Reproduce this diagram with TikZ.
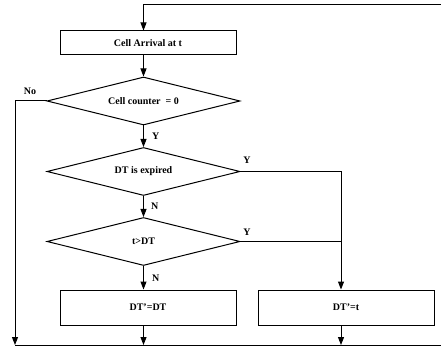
\documentclass[tikz,border=0pt]{standalone}
\usepackage{fontspec}
\setmainfont{Liberation Serif}
\usepackage{tikz}
\usetikzlibrary{shapes.geometric, arrows.meta, calc}

\begin{document}
\begin{tikzpicture}[
    x=1pt, y=-1pt,
    line width=1pt,
    process/.style={
        rectangle, draw=black, fill=white,
        minimum width=176pt, minimum height=24pt,
        inner sep=0pt, align=center, font=\fontsize{10}{11}\selectfont\bfseries
    },
    decision/.style={
        diamond, draw=black, aspect=4, inner sep=0pt,
        minimum width=193pt, minimum height=48pt,
        font=\fontsize{10}{11}\selectfont\bfseries
    },
    flow/.style={-{Triangle[length=8pt,width=6pt]}},
    tag/.style={font=\fontsize{10}{11}\selectfont\bfseries, inner sep=1pt}
]
\useasboundingbox (0,0) rectangle (441,347);

% Start of the loop
\coordinate (loopin) at (441,5);
\node[process] (arrival) at (148,43) {Cell Arrival at t};

% Decisions
\node[decision] (counter) at (143.5,101) {Cell counter \ = 0};
\node[decision] (expired) at (143.5,171.5) {DT is expired};
\node[decision] (later) at (143.5,241.5) {t>DT};

% Updates
\node[process, minimum height=35pt] (keep) at (148,307.5) {DT'=DT};
\node[process, minimum height=35pt] (reset) at (346,307.5) {DT'=t};

% Bottom line
\coordinate (botL) at (15,345);
\coordinate (botR) at (441,345);

% Relationships
\draw[flow] (loopin) -| (arrival.north -| counter.north);
\draw[flow] (arrival.south -| counter.north) -- (counter.north);
\draw[flow] (counter.west) -| (botL);
\draw[flow] (counter.south) -- node[tag, right=7pt] {Y} (expired.north);
\draw[flow] (expired.east) -| ($(reset.north)+(-5,0)$);
\draw[flow] (expired.south) -- node[tag, right=6pt] {N} (later.north);
\draw (later.east) -- (later.east -| {$(reset.north)+(-5,0)$});
\draw[flow] (later.south) -- node[tag, right=7pt] {N} (later.south |- keep.north);
\draw[flow] (keep.south -| later.south) -- (later.south |- botL);
\draw[flow] ($(reset.south)+(-5,0)$) -- ($(reset.south |- botL)+(-5,0)$);
\draw (botL) -- (botR);

% Labels
\node[tag] (no) at (30,91) {No};
\node[tag] (ye1) at (247,160) {Y};
\node[tag] (ye2) at (247,232) {Y};

\end{tikzpicture}
\end{document}
